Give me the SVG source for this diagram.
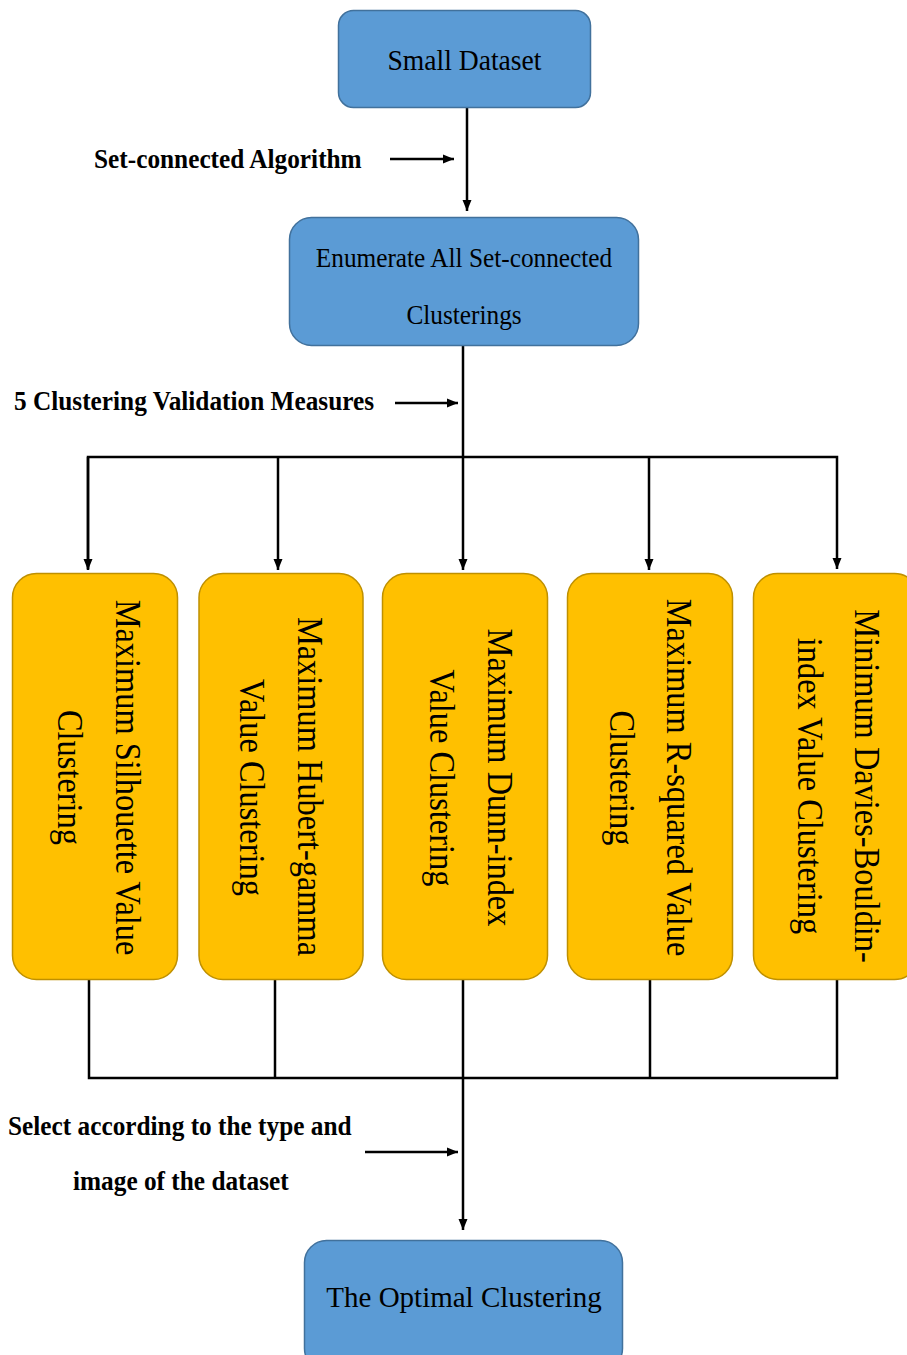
<svg xmlns="http://www.w3.org/2000/svg" width="907" height="1355" viewBox="0 0 907 1355">
<style>
.blue{fill:#5B9BD5;stroke:#41719C;stroke-width:1.5}
.yel{fill:#FFC000;stroke:#BF9000;stroke-width:1.5}
.t{font-family:"Liberation Serif","Times New Roman",serif;fill:#000}
.b{font-family:"Liberation Serif","Times New Roman",serif;font-weight:bold;fill:#000;font-size:25.3px}
.v{font-size:32.4px;text-anchor:middle}
.ln{fill:none;stroke:#000;stroke-width:2.5}
</style>
<defs>
<marker id="ah" markerUnits="userSpaceOnUse" markerWidth="12" markerHeight="12" viewBox="0 0 12 12" refX="11" refY="6" orient="auto">
<path d="M0,1.5 L11,6 L0,10.5 Z" fill="#000"/>
</marker>
</defs>
<rect width="907" height="1355" fill="#fff"/>

<g id="connectors">
<line class="ln" x1="467" y1="108" x2="467" y2="211" marker-end="url(#ah)"/>
<line class="ln" x1="390" y1="159" x2="454" y2="159" marker-end="url(#ah)"/>
<line class="ln" x1="463" y1="345" x2="463" y2="457"/>
<line class="ln" x1="395" y1="403" x2="458" y2="403" marker-end="url(#ah)"/>
<polyline class="ln" points="88,569 88,457 837,457 837,569" marker-end="url(#ah)"/>
<line class="ln" x1="88" y1="457" x2="88" y2="570" marker-end="url(#ah)"/>
<line class="ln" x1="278" y1="457" x2="278" y2="570" marker-end="url(#ah)"/>
<line class="ln" x1="463" y1="457" x2="463" y2="570" marker-end="url(#ah)"/>
<line class="ln" x1="649" y1="457" x2="649" y2="570" marker-end="url(#ah)"/>
<polyline class="ln" points="89,980 89,1078 837,1078 837,980"/>
<line class="ln" x1="275" y1="980" x2="275" y2="1078"/>
<line class="ln" x1="463" y1="980" x2="463" y2="1230" marker-end="url(#ah)"/>
<line class="ln" x1="650" y1="980" x2="650" y2="1078"/>
<line class="ln" x1="365" y1="1152" x2="458" y2="1152" marker-end="url(#ah)"/>
</g>

<g id="label-algorithm"><text class="b" transform="translate(94,168) scale(1,1.12)">Set-connected Algorithm</text></g>
<g id="label-measures"><text class="b" transform="translate(14,410) scale(1,1.12)">5 Clustering Validation Measures</text></g>
<g id="label-select">
<text class="b" transform="translate(8,1135) scale(1,1.12)">Select according to the type and</text>
<text class="b" transform="translate(73,1190) scale(1,1.12)">image of the dataset</text>
</g>

<g id="small-dataset">
<rect class="blue" x="338.5" y="10.5" width="252" height="97" rx="15"/>
<text class="t" font-size="27.6" text-anchor="middle" transform="translate(464.5,69.5) scale(1,1.05)">Small Dataset</text>
</g>

<g id="enumerate">
<rect class="blue" x="289.5" y="217.5" width="349" height="128" rx="22"/>
<text class="t" font-size="25.3" text-anchor="middle" transform="translate(464,267) scale(1,1.05)">Enumerate All Set-connected</text>
<text class="t" font-size="25.3" text-anchor="middle" transform="translate(464,324) scale(1,1.05)">Clusterings</text>
</g>

<g id="silhouette">
<rect class="yel" x="12.5" y="573.5" width="165" height="406" rx="24"/>
<text class="t v" transform="translate(116,777.5) rotate(90) scale(1,1.08)">Maximum Silhouette Value</text>
<text class="t v" transform="translate(58,777.5) rotate(90) scale(1,1.08)">Clustering</text>
</g>

<g id="hubert">
<rect class="yel" x="199" y="573.5" width="164" height="406" rx="24"/>
<text class="t v" transform="translate(298,786.5) rotate(90) scale(1,1.08)">Maximum Hubert-gamma</text>
<text class="t v" transform="translate(240,787.5) rotate(90) scale(1,1.08)">Value Clustering</text>
</g>

<g id="dunn">
<rect class="yel" x="382.5" y="573.5" width="165" height="406" rx="24"/>
<text class="t v" transform="translate(488,777.5) rotate(90) scale(1,1.08)">Maximum Dunn-index</text>
<text class="t v" transform="translate(430,778) rotate(90) scale(1,1.08)">Value Clustering</text>
</g>

<g id="rsquared">
<rect class="yel" x="567.5" y="573.5" width="165" height="406" rx="24"/>
<text class="t v" transform="translate(667,777.5) rotate(90) scale(1,1.08)">Maximum R-squared Value</text>
<text class="t v" transform="translate(610,778) rotate(90) scale(1,1.08)">Clustering</text>
</g>

<g id="davies">
<rect class="yel" x="753.5" y="573.5" width="165" height="406" rx="24"/>
<text class="t v" transform="translate(855,786) rotate(90) scale(1,1.08)">Minimum Davies-Bouldin-</text>
<text class="t v" transform="translate(798,786) rotate(90) scale(1,1.08)">index Value Clustering</text>
</g>

<g id="optimal">
<rect class="blue" x="304.5" y="1240.5" width="318" height="130" rx="22"/>
<text class="t" font-size="29" text-anchor="middle" transform="translate(464,1307) scale(1,1.05)">The Optimal Clustering</text>
</g>
</svg>
